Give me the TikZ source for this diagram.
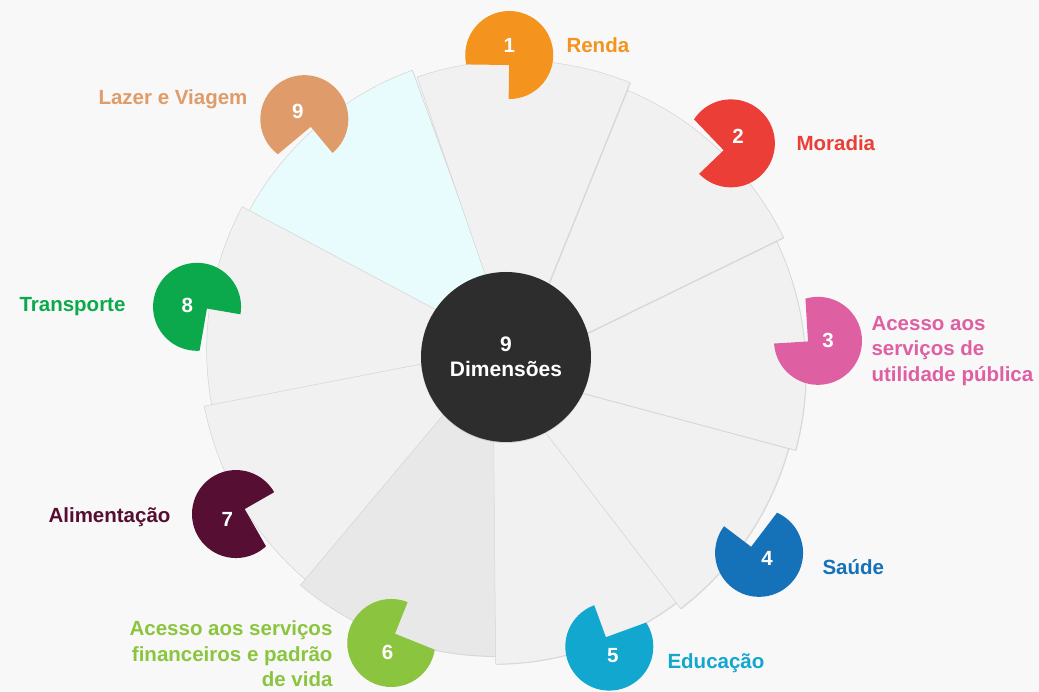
\documentclass[tikz,border=0pt]{standalone}
\usepackage{fontspec}
\setmainfont{Liberation Sans}
\usepackage{xcolor}
\usetikzlibrary{calc, shadows}
\definecolor{bgGray}{HTML}{F8F8F8}
\definecolor{bladeGray}{HTML}{F1F1F1}
\definecolor{bladeDark}{HTML}{E8E8E8}
\definecolor{bladeCyan}{HTML}{E9FCFD}
\definecolor{hubDark}{HTML}{2D2D2D}
\definecolor{cRenda}{HTML}{F4941E}
\definecolor{cMoradia}{HTML}{EA3E37}
\definecolor{cUtilidade}{HTML}{DF5FA3}
\definecolor{cSaude}{HTML}{1572B9}
\definecolor{cEducacao}{HTML}{12A7CE}
\definecolor{cFinanceiro}{HTML}{8BC53F}
\definecolor{cAlimento}{HTML}{560F32}
\definecolor{cTransporte}{HTML}{0BA94C}
\definecolor{cLazer}{HTML}{DF9C6A}
% blade: start angle, end angle, fill
\newcommand{\fanBlade}[3]{%
  \filldraw[blade, fill=#3] (#1-90:12) -- ++(#1:304) arc[start angle=#1, end angle=#2, radius=304pt] -- cycle;
}
% badge: angle, distance, colour, name, number
\newcommand{\badge}[5]{%
  \begin{scope}
    \coordinate (#4bite) at ($(#1:#2)+(#1+180:10)$);
    \clip (#4bite) -- ++(#1+180:100) -- ($(#4bite)+(#1+225:142)$) -- ($(#4bite)+(#1+315:142)$)
      -- ($(#4bite)+(#1+45:142)$) -- ($(#4bite)+(#1+90:100)$) -- cycle;
    \fill[#3] (#1:#2) circle (44pt);
  \end{scope}
  \node[num] (#4) at ($(#1:#2)+(#1:10)$) {#5};
}

\begin{document}
\begin{tikzpicture}[
    x=1pt, y=1pt,
    blade/.style={draw=black!17, line width=0.5pt, drop shadow={opacity=0.22, shadow xshift=0.8pt, shadow yshift=-0.8pt}},
    hub/.style={circle, fill=hubDark, minimum size=170pt, inner sep=0pt, align=center, text=white, font=\fontsize{21}{25}\selectfont\bfseries, drop shadow={opacity=0.25, shadow xshift=0pt, shadow yshift=-1pt}},
    num/.style={text=white, font=\fontsize{20.5}{24}\selectfont\bfseries},
    lbl/.style={text=#1, font=\fontsize{20.5}{25.5}\selectfont\bfseries}
]
\useasboundingbox (-505,-332) rectangle (534,360);
\fill[bgGray] (-505,-332) rectangle (534,360);

% Blades
\fanBlade{110}{156}{bladeCyan}
\fanBlade{152}{195}{bladeGray}
\fanBlade{-169}{-126}{bladeGray}
\fanBlade{-130}{-85.5}{bladeDark}
\fanBlade{-89.5}{-48.5}{bladeGray}
\fanBlade{-52.5}{-11}{bladeGray}
\fanBlade{-15}{30}{bladeGray}
\fanBlade{26}{72}{bladeGray}
\fanBlade{68}{109}{bladeGray}

% Badges
\badge{89.2}{305}{cRenda}{b1}{1}
\badge{43.8}{313}{cMoradia}{b2}{2}
\badge{3.5}{313.6}{cUtilidade}{b3}{3}
\badge{-37.2}{319}{cSaude}{b4}{4}
\badge{-70}{305}{cEducacao}{b5}{5}
\badge{-111.9}{305}{cFinanceiro}{b6}{6}
\badge{-150.2}{310}{cAlimento}{b7}{7}
\badge{170.2}{312.5}{cTransporte}{b8}{8}
\badge{129.8}{313.5}{cLazer}{b9}{9}

% Core
\node[hub] (core) at (1,3) {9\\Dimensões};

% Labels
\node[lbl=cRenda, anchor=west] (renda) at (58,315) {Renda};
\node[lbl=cMoradia, anchor=west] (moradia) at (288,217) {Moradia};
\node[lbl=cUtilidade, anchor=west, align=left] (utilidade) at (363,9) {Acesso aos\\serviços de\\utilidade pública};
\node[lbl=cSaude, anchor=west] (saude) at (314,-207) {Saúde};
\node[lbl=cEducacao, anchor=west] (educacao) at (159,-303) {Educação};
\node[lbl=cFinanceiro, anchor=east, align=right] (financeiro) at (-169,-294) {Acesso aos serviços\\financeiros e padrão\\de vida};
\node[lbl=cAlimento, anchor=east] (alimento) at (-331,-157) {Alimentação};
\node[lbl=cTransporte, anchor=east] (transporte) at (-376,53) {Transporte};
\node[lbl=cLazer, anchor=east] (lazer) at (-254,261) {Lazer e Viagem};

\end{tikzpicture}
\end{document}
